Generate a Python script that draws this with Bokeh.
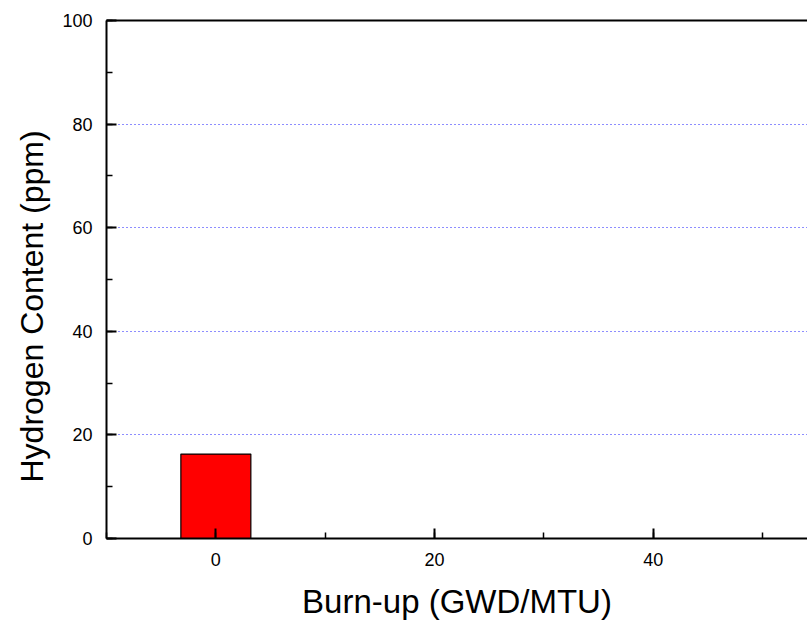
from bokeh.plotting import figure
from bokeh.models import Range1d, SingleIntervalTicker, LinearAxis, Title, ColumnDataSource
from bokeh.embed import file_html
from bokeh.resources import INLINE

# data
burnup = [0]
hydrogen = [16.3]
x_label = "Burn-up (GWD/MTU)"
y_label = "Hydrogen Content (ppm)"

FONT = "Liberation Sans"

p = figure(width=807, height=628, output_backend="svg", toolbar_location=None,
           x_range=Range1d(-10, 54.1), y_range=Range1d(0, 100),
           min_border_left=106, min_border_right=0, min_border_top=20, min_border_bottom=90)
p.outline_line_color = None
p.background_fill_color = "white"
p.border_fill_color = "white"

src = ColumnDataSource(dict(x=burnup, top=hydrogen))
p.vbar(x="x", top="top", width=6.4, bottom=0, source=src,
       fill_color="#ff0000", line_color="black", line_width=1.2)

for ax in (p.xaxis[0], p.yaxis[0]):
    ax.axis_line_width = 2
    ax.axis_line_color = "black"
    ax.major_tick_in = 10
    ax.major_tick_out = 0
    ax.minor_tick_in = 6
    ax.minor_tick_out = 0
    ax.major_tick_line_width = 2
    ax.minor_tick_line_width = 1.5
    ax.major_label_text_font = FONT
    ax.major_label_text_font_size = "18px"
    ax.major_label_text_color = "black"

p.xaxis[0].ticker = SingleIntervalTicker(interval=20, num_minor_ticks=2)
p.yaxis[0].ticker = SingleIntervalTicker(interval=20, num_minor_ticks=2)
p.xaxis[0].major_label_standoff = 14
p.yaxis[0].major_label_standoff = 14

p.xaxis[0].axis_label = x_label
p.xaxis[0].axis_label_text_font = FONT
p.xaxis[0].axis_label_text_font_size = "33px"
p.xaxis[0].axis_label_text_font_style = "normal"
p.xaxis[0].axis_label_text_color = "black"
p.xaxis[0].axis_label_standoff = 14

# top frame line
top = LinearAxis(ticker=SingleIntervalTicker(interval=20, num_minor_ticks=2))
top.axis_line_width = 2
top.major_tick_in = 0
top.major_tick_out = 0
top.minor_tick_in = 0
top.minor_tick_out = 0
top.major_label_text_font_size = "0px"
top.major_label_text_alpha = 0
p.add_layout(top, "above")

p.xgrid.visible = False
p.ygrid[0].ticker = SingleIntervalTicker(interval=20)
p.ygrid[0].grid_line_color = "#1a1aff"
p.ygrid[0].grid_line_dash = "1 3"
p.ygrid[0].grid_line_width = 1

ytitle = Title(text=y_label, align="left", offset=56, vertical_align="bottom",
               text_font=FONT, text_font_size="32px", text_color="black",
               text_font_style="normal", standoff=20)
p.add_layout(ytitle, "left")

open("out.html", "w").write(file_html(p, INLINE))
